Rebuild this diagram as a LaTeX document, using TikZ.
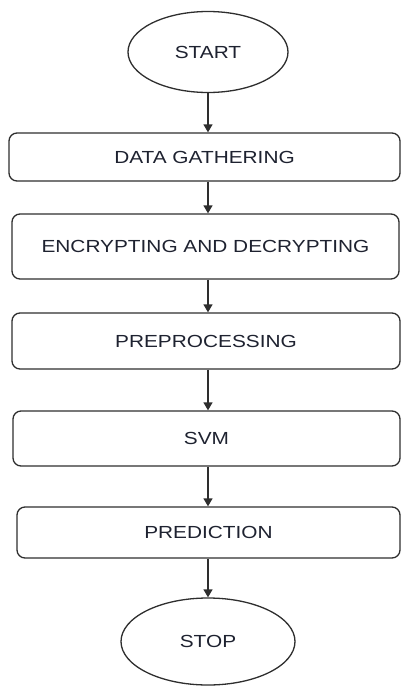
\documentclass[tikz,border=0pt]{standalone}
\usepackage{fontspec}
\setmainfont{Liberation Sans}
\usetikzlibrary{shapes.geometric,arrows.meta}
\definecolor{linec}{HTML}{2E2E2E}
\definecolor{textc}{HTML}{1E2230}
\tikzset{
  lbl/.style={font=\fontsize{17.5}{20}\selectfont, text=textc},
  procbox/.style={draw=linec, line width=1.3pt, rounded corners=8pt, inner sep=0pt, lbl},
  term/.style={draw=linec, line width=1.3pt, ellipse, inner sep=0pt, lbl},
  conn/.style={draw=linec, line width=1.3pt, -{Triangle[length=8pt,width=9pt]}}
}
\newcommand{\wide}[1]{\scalebox{1.19}[1]{#1}}
\begin{document}
\begin{tikzpicture}[x=1pt,y=-1pt]
\useasboundingbox (0,0) rectangle (401,686);
\node[term, minimum width=160pt, minimum height=81pt] (start) at (208,52) {\wide{START}};
\node[procbox, minimum width=391pt, minimum height=48pt] (data) at (204.5,157) {\wide{DATA GATHERING}};
\node[procbox, minimum width=387pt, minimum height=65pt] (enc) at (205.5,246.5) {\wide{ENCRYPTING AND DECRYPTING}};
\node[procbox, minimum width=388pt, minimum height=56pt] (pre) at (206,341) {\wide{PREPROCESSING}};
\node[procbox, minimum width=387pt, minimum height=55pt] (svm) at (206.5,438.5) {\wide{SVM}};
\node[procbox, minimum width=383pt, minimum height=51pt] (pred) at (208.5,532.5) {\wide{PREDICTION}};
\node[term, minimum width=174pt, minimum height=87pt, text depth=-3pt] (stop) at (208,641.5) {\wide{STOP}};
\draw[conn] (start.south) -- (start.south |- data.north);
\draw[conn] (data.south -| start.south) -- (enc.north -| start.south);
\draw[conn] (enc.south -| start.south) -- (pre.north -| start.south);
\draw[conn] (pre.south -| start.south) -- (svm.north -| start.south);
\draw[conn] (svm.south -| start.south) -- (pred.north -| start.south);
\draw[conn] (pred.south -| start.south) -- (stop.north);
\end{tikzpicture}
\end{document}
